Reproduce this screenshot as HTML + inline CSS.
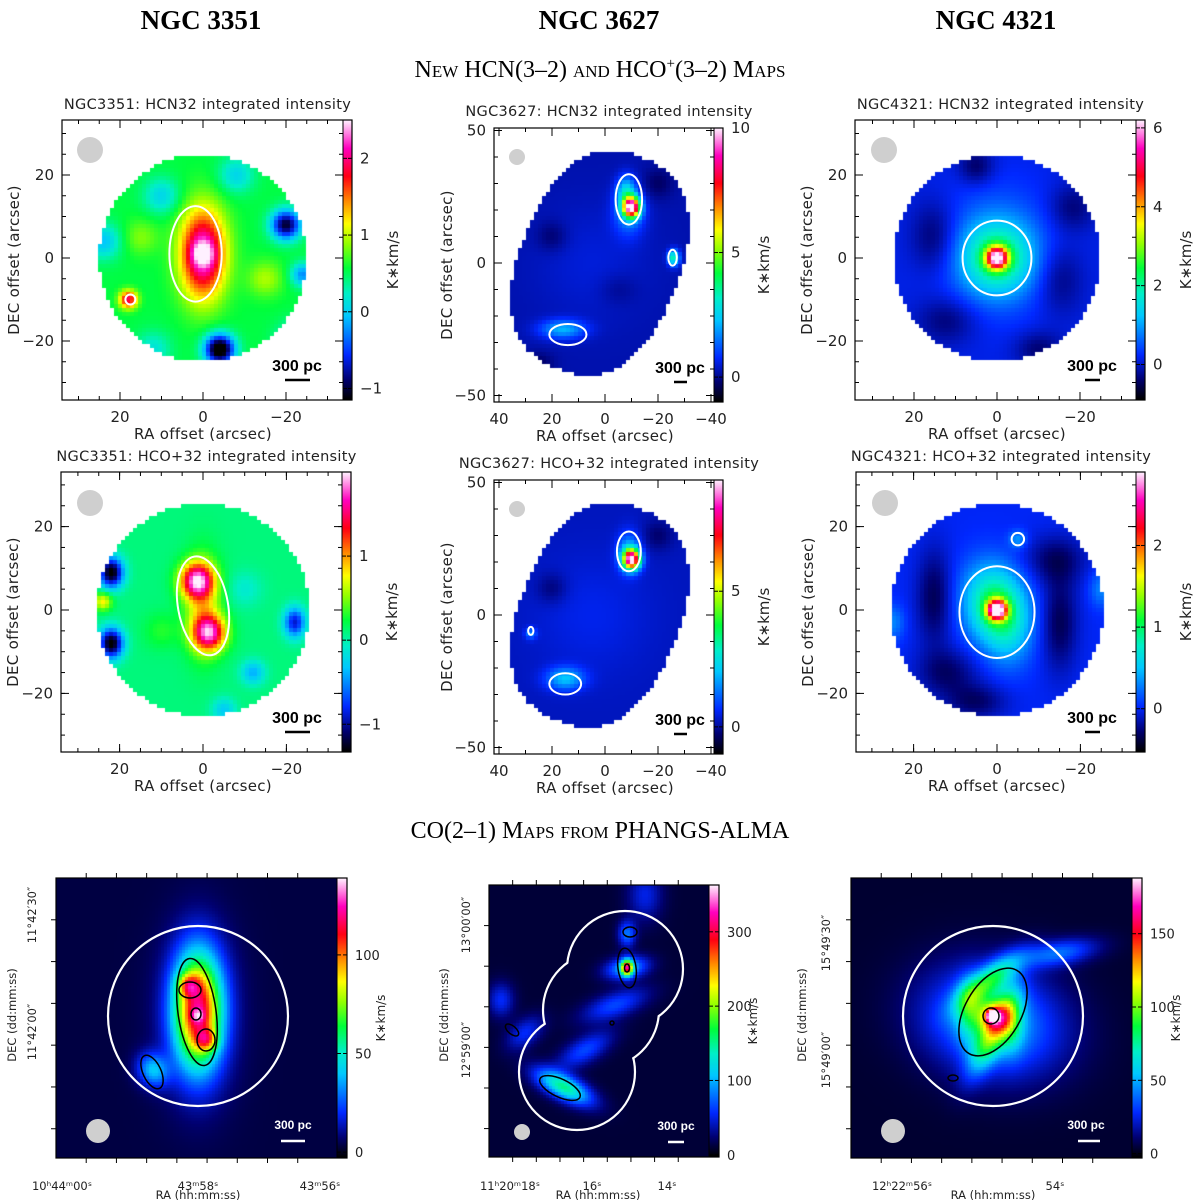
<!DOCTYPE html>
<html><head><meta charset="utf-8">
<style>
body{margin:0;width:1200px;height:1200px;background:#fff;position:relative;overflow:hidden;font-family:"DejaVu Sans","Liberation Sans",sans-serif}
canvas{position:absolute}
#ov{position:absolute;left:0;top:0}
</style></head>
<body>
<div id="maps"></div>
<svg id="ov" width="1200" height="1200" xmlns="http://www.w3.org/2000/svg">
<g font-family="Liberation Serif, serif" font-weight="bold" font-size="27" text-anchor="middle">
<text x="201" y="29">NGC 3351</text>
<text x="599" y="29">NGC 3627</text>
<text x="996" y="29">NGC 4321</text>
</g>
<text x="600" y="77" font-family="Liberation Serif, serif" font-size="24" text-anchor="middle" style="font-variant:small-caps">New HCN(3–2) and HCO<tspan font-size="15" dy="-9">+</tspan><tspan dy="9">(3–2) Maps</tspan></text>
<text x="600" y="838" font-family="Liberation Serif, serif" font-size="24" text-anchor="middle" style="font-variant:small-caps">CO(2–1) Maps from PHANGS-ALMA</text>
</svg>
<script>
// colormap stops (fraction, r,g,b)
const cmapStops=[[0,0,0,0],[0.07,0,0,110],[0.16,0,40,255],[0.3,0,200,255],[0.38,0,240,200],[0.47,0,255,60],[0.56,150,255,0],[0.63,255,255,0],[0.71,255,140,0],[0.8,255,0,20],[0.9,255,0,190],[1,255,240,255]];
function cmap(f){f=Math.max(0,Math.min(1,f));for(let i=1;i<cmapStops.length;i++){const a=cmapStops[i-1],b=cmapStops[i];if(f<=b[0]){const t=(f-a[0])/(b[0]-a[0]);return [a[1]+(b[1]-a[1])*t,a[2]+(b[2]-a[2])*t,a[3]+(b[3]-a[3])*t];}}return [255,240,255];}

// ---- data: emission components [xOffset, yOffset, amplitude, sigmaU, sigmaV, angleDeg]
const hcn3351Comps=[[0,1,1.8,3.8,7.5,0],[0,1,0.5,2,2,0],[-20,8,-1.6,2.5,2.5,0],[-4,-22,-2.0,2.5,2.5,0],[18,-10,1.4,1.5,1.5,0],[-22,-20,-0.6,3,3,0],[10,15,-0.5,3,3,0],[24,4,-0.6,3,3,0],[-8,20,-0.5,3,3,0],[12,-22,-0.4,3,3,0],[-15,-5,0.4,3,3,0],[15,5,0.3,3,3,0],[-24,-4,-0.8,2,2,0]];
const hcn3627Comps=[[-10,21,9.2,2.2,2.6,0],[-8,27,2.2,2.5,4,0],[-9,19,1.5,4,6,0],[16,-25,1.9,6,2.5,0],[-26,2,3.4,1.5,2,0],[5,0,0.3,15,15,0],[20,10,-0.5,4,4,0],[-20,30,-0.5,4,4,0],[25,-38,-0.5,4,3,0],[-5,-10,-0.3,5,4,0]];
const hcn4321Comps=[[0,0,4.6,1.8,1.8,0],[0,0,1.8,6,6,0],[0,2,0.6,10,11,0],[15,5,-0.6,4,6,0],[-15,-5,-0.5,4,6,0],[-18,12,-0.5,4,4,0],[12,-15,-0.5,5,4,0],[-10,-22,-0.5,4,3,0],[5,22,-0.6,3,3,0]];
const hco3351Comps=[[1.5,7,1.6,2.8,3,0],[-1.5,-5.5,1.5,2.8,3,0],[0,1,0.6,3,8,0],[22,9,-1.5,2,2.5,0],[22,-8,-1.5,2,2.5,0],[-22,-3,-1.0,1.8,2.5,0],[24,2,0.7,1.5,1.5,0],[-12,-15,-0.5,2,2,0],[-5,-24,-0.4,2,2,0],[10,-5,0.2,3,3,0],[-10,5,-0.2,3,3,0]];
const hco3627Comps=[[-10,21,8.4,2.2,2.6,0],[-9,24,1.5,3,5,0],[15,-24,1.8,5,3,0],[28,-7,1.2,1.5,1.5,0],[5,0,0.3,15,15,0],[20,10,-0.5,4,4,0],[-20,30,-0.5,4,4,0]];
const hco4321Comps=[[0,0,2.5,1.6,1.6,0],[0,0,0.8,5,6,0],[2,5,0.35,5,6,0],[-3,-6,0.35,4,6,0],[15,3,-0.35,3,8,0],[-15,-3,-0.35,3,8,0],[12,-15,-0.3,5,4,0],[-14,12,-0.3,5,4,0],[5,-22,-0.3,5,3,0],[-5,17,0.35,1.5,1.5,0],[-25,5,0.3,2,3,0],[25,-3,0.3,2,3,0]];
const co3351Comps=[[0,2,105,5.5,13,0],[3.3,10.3,35,2.5,2.5,0],[-3,-8,35,2.5,2.5,0],[0,0,20,1.5,1.5,0],[15,-18,35,4,3.5,60],[0,0,14,9,20,0]];
const co3627Comps=[[-9,15.7,240,1.3,1.8,0],[-9,15.7,90,2.5,5,80],[-9,27,70,2,3,0],[-5,3.3,55,3,8,70],[5,-11.7,55,3,7,60],[12,-24,140,7,2.8,27],[33,5,45,3,4,0],[25,-6,45,5,3,-40],[-15,40,40,4,6,0]];
const co4321Comps=[[0,0,130,1.2,1.2,0],[0,0,70,3.5,3.5,0],[1,12,60,9,3.2,-39],[0,-6,60,10,3.2,-63],[8,2,35,3,7,0],[-6,-2,35,3,7,0],[0,-2,50,12,16,-75],[-22,21,35,9,3,-10]];

// ---- colorbar tick values
const cbTicks1=[-1,0,1,2], cbTicks2=[0,5,10], cbTicks3=[0,2,4,6];
const cbTicks4=[-1,0,1], cbTicks5=[0,5], cbTicks6=[0,1,2];
const cbTicks7=[0,50,100], cbTicks8=[0,100,200,300], cbTicks9=[0,50,100,150];
const xTicksA=[20,0,-20], yTicksA=[20,0,-20];
const xTicksB=[40,20,0,-20,-40], yTicksB=[50,0,-50];

const panels=[
 {n:'hcn-ngc3351',fx:62,fy:120,fw:281,fh:280,cx0:203,cy0:258,sc:4.15,vmin:-1.15,vmax:2.5,bg:0.55,comps:hcn3351Comps,mask:['circle',0,0,25],cs:4,cb:cbTicks1,xt:xTicksA,yt:yTicksA,title:'NGC3351: HCN32 integrated intensity',cont:[[1.8,1,6.3,11.5,0],[17.5,-10,1.2,1.2,0]],beam:[90,150,13],bar:[297,285,310]},
 {n:'hcn-ngc3627',fx:494,fy:128,fw:220,fh:274,cx0:605,cy0:263,sc:2.65,vmin:-1,vmax:10,bg:0.2,comps:hcn3627Comps,mask:['ell',2,0,43,30,22],cs:4,cb:cbTicks2,xt:xTicksB,yt:yTicksB,title:'NGC3627: HCN32 integrated intensity',cont:[[-9,24,5,9.5,0],[14,-27,7,4,0],[-25.5,2,1.6,3,0]],beam:[517,157,8],bar:[680,674,687]},
 {n:'hcn-ngc4321',fx:855,fy:120,fw:281,fh:280,cx0:997,cy0:258,sc:4.15,vmin:-0.9,vmax:6.2,bg:0.1,comps:hcn4321Comps,mask:['circle',0,0,25],cs:4,cb:cbTicks3,xt:xTicksA,yt:yTicksA,title:'NGC4321: HCN32 integrated intensity',cont:[[0,0,8.3,9,0]],beam:[884,150,13],bar:[1092,1085,1100]},
 {n:'hco-ngc3351',fx:61,fy:472,fw:281,fh:280,cx0:203,cy0:610,sc:4.17,vmin:-1.33,vmax:2.0,bg:0.1,comps:hco3351Comps,mask:['circle',0,0,25.5],cs:4,cb:cbTicks4,xt:xTicksA,yt:yTicksA,title:'NGC3351: HCO+32 integrated intensity',cont:[[0,1,6,12,-10]],beam:[90,503,13],bar:[297,285,310]},
 {n:'hco-ngc3627',fx:494,fy:480,fw:220,fh:274,cx0:605,cy0:615,sc:2.65,vmin:-1,vmax:9.1,bg:0.2,comps:hco3627Comps,mask:['ell',2,0,43,30,22],cs:4,cb:cbTicks5,xt:xTicksB,yt:yTicksB,title:'NGC3627: HCO+32 integrated intensity',cont:[[-9,24,4.5,7.5,0],[15,-26,6,4,0],[28,-6,1,1.5,0]],beam:[517,509,8],bar:[680,674,687]},
 {n:'hco-ngc4321',fx:856,fy:472,fw:280,fh:280,cx0:997,cy0:610,sc:4.17,vmin:-0.53,vmax:2.9,bg:0.0,comps:hco4321Comps,mask:['circle',0,0,25.5],cs:4,cb:cbTicks6,xt:xTicksA,yt:yTicksA,title:'NGC4321: HCO+32 integrated intensity',cont:[[0,-0.5,9,11,0],[-5,17,1.5,1.5,0]],beam:[885,503,13],bar:[1092,1085,1100]},
 {n:'co-ngc3351',fx:56,fy:878,fw:281,fh:280,cx0:198,cy0:1016,sc:3,vmin:-3,vmax:139,bg:3,comps:co3351Comps,mask:null,cs:3,cb:cbTicks7,co:true,circ:[[198,1016,90]],blk:[[197,1012,19,54,-8],[196,1014,5,6,0],[190,990,11,8,0],[206,1040,9,11,0],[152,1072,9,18,-25]],beam:[98,1131,12],bar:[293,281,305]},
 {n:'co-ngc3627',fx:489,fy:885,fw:220,fh:272,cx0:600,cy0:1015,sc:3,vmin:-3,vmax:363,bg:10,comps:co3627Comps,mask:null,cs:3,cb:cbTicks8,co:true,circ:[[625,969,58],[601,1010,58],[577,1072,58]],blk:[[627,968,9,20,-8],[627,968,2.5,4,0],[630,932,7,5,0],[560,1088,22,9,25],[512,1030,8,4,40],[612,1023,2,2,0]],beam:[522,1132,8],bar:[676,668,684]},
 {n:'co-ngc4321',fx:851,fy:878,fw:281,fh:280,cx0:993,cy0:1016,sc:3,vmin:-3,vmax:188,bg:3,comps:co4321Comps,mask:null,cs:3,cb:cbTicks9,co:true,circ:[[993,1016,90]],blk:[[993,1012,28,48,30],[991,1016,8,8,0],[953,1078,5,3,0]],beam:[893,1131,12],bar:[1086,1078,1100]}
];

function field(x,y,bg,comps){let v=bg;for(const c of comps){const t=(c[5]||0)*Math.PI/180;const dx=x-c[0],dy=y-c[1];const u=dx*Math.cos(t)+dy*Math.sin(t),w=-dx*Math.sin(t)+dy*Math.cos(t);v+=c[2]*Math.exp(-0.5*(u*u/(c[3]*c[3])+w*w/(c[4]*c[4])));}return v;}
function inMask(m,x,y){if(!m)return true;if(m[0]==='circle'){return (x-m[1])**2+(y-m[2])**2<=m[3]*m[3];}
 const t=m[5]*Math.PI/180;const dx=x-m[1],dy=y-m[2];const u=dx*Math.cos(t)+dy*Math.sin(t),w=-dx*Math.sin(t)+dy*Math.cos(t);return Math.pow(Math.abs(w)/m[3],2.4)+Math.pow(Math.abs(u)/m[4],2.4)<=1;}

const NS='http://www.w3.org/2000/svg';
const ov=document.getElementById('ov');
const mapsDiv=document.getElementById('maps');
function el(tag,attrs,parent,txt){const e=document.createElementNS(NS,tag);for(const k in attrs)e.setAttribute(k,attrs[k]);if(txt!==undefined)e.textContent=txt;(parent||ov).appendChild(e);return e;}

panels.forEach((p,pi)=>{
 const cv=document.createElement('canvas');
 cv.width=p.fw;cv.height=p.fh;cv.style.left=p.fx+'px';cv.style.top=p.fy+'px';
 
 
 mapsDiv.appendChild(cv);
 const ctx=cv.getContext('2d');
 ctx.fillStyle='#fff';ctx.fillRect(0,0,p.fw,p.fh);
 for(let py=0;py<p.fh;py+=p.cs)for(let px=0;px<p.fw;px+=p.cs){
  const X=(p.cx0-(p.fx+px+p.cs/2))/p.sc, Y=(p.cy0-(p.fy+py+p.cs/2))/p.sc;
  if(!inMask(p.mask,X,Y))continue;
  const v=field(X,Y,p.bg,p.comps);const c=cmap((v-p.vmin)/(p.vmax-p.vmin));
  ctx.fillStyle=`rgb(${c[0]|0},${c[1]|0},${c[2]|0})`;ctx.fillRect(px,py,p.cs,p.cs);
 }
 const cbx=p.fx+p.fw, cbw=p.co?10:9;
 const cb=document.createElement('canvas');cb.width=cbw;cb.height=p.fh;cb.style.left=cbx+'px';cb.style.top=p.fy+'px';
 
 
 mapsDiv.appendChild(cb);
 const cc=cb.getContext('2d');
 for(let y=0;y<p.fh;y++){const c=cmap(1-y/(p.fh-1));cc.fillStyle=`rgb(${c[0]|0},${c[1]|0},${c[2]|0})`;cc.fillRect(0,y,cbw,1);}
 const g=el('g',{});
 
 
 el('rect',{x:p.fx,y:p.fy,width:p.fw+cbw,height:p.fh,fill:'none',stroke:'#000','stroke-width':1.2},g);
 el('line',{x1:cbx,y1:p.fy,x2:cbx,y2:p.fy+p.fh,stroke:'#000','stroke-width':1},g);
 const vy=v=>p.fy+p.fh*(1-(v-p.vmin)/(p.vmax-p.vmin));
 p.cb.forEach(v=>{const y=vy(v);
  el('line',{x1:cbx,y1:y,x2:cbx+4,y2:y,stroke:'#000'},g);el('line',{x1:cbx+cbw-4,y1:y,x2:cbx+cbw,y2:y,stroke:'#000'},g);
  const t=el('text',{x:cbx+cbw+8,y:y+5,'font-size':p.co?13:15,fill:'#222'},g,(v<0?'−'+(-v):String(v)));
  
  
 });
 const ul=el('text',{x:0,y:0,'font-size':p.co?12:15,'text-anchor':'middle',transform:`translate(${cbx+cbw+(p.co?38:46)},${p.fy+p.fh/2}) rotate(-90)`,fill:'#222'},g,'K∗km/s');
 
 
 const b=el('circle',{cx:p.beam[0],cy:p.beam[1],r:p.beam[2],fill:'#cfcfcf'},g);
 
 
 const sbCol=p.co?'#fff':'#000';
 const sbt=el('text',{x:p.bar[0],y:p.co?p.beam[1]-2:p.fy+p.fh-29,'font-size':p.co?12:16,'font-weight':'bold','text-anchor':'middle',fill:sbCol,'font-family':'Liberation Sans, sans-serif'},g,'300 pc');
 
 
 const sby=p.co?p.beam[1]+10:p.fy+p.fh-20;
 el('line',{x1:p.bar[1],y1:sby,x2:p.bar[2],y2:sby,stroke:sbCol,'stroke-width':2.5},g);
 if(!p.co){
  const X=x=>p.cx0-x*p.sc, Y=y=>p.cy0-y*p.sc;
  p.xt.forEach(v=>{const x=X(v);el('line',{x1:x,y1:p.fy,x2:x,y2:p.fy+8,stroke:'#000'},g);el('line',{x1:x,y1:p.fy+p.fh-8,x2:x,y2:p.fy+p.fh,stroke:'#000'},g);
   const t=el('text',{x:x,y:p.fy+p.fh+22,'font-size':15,'text-anchor':'middle',fill:'#222'},g,(v<0?'−'+(-v):String(v)));
   
   });
  p.yt.forEach(v=>{const y=Y(v);el('line',{x1:p.fx,y1:y,x2:p.fx+8,y2:y,stroke:'#000'},g);el('line',{x1:cbx-8,y1:y,x2:cbx,y2:y,stroke:'#000'},g);
   const t=el('text',{x:p.fx-8,y:y+5,'font-size':15,'text-anchor':'end',fill:'#222'},g,(v<0?'−'+(-v):String(v)));
   
   });
  const st=p.xt.length>3?10:5;
  for(let v=-60;v<=60;v+=st){const x=X(v);if(x>p.fx+2&&x<cbx-2){el('line',{x1:x,y1:p.fy,x2:x,y2:p.fy+4,stroke:'#000'},g);el('line',{x1:x,y1:p.fy+p.fh-4,x2:x,y2:p.fy+p.fh,stroke:'#000'},g);}
   const y=Y(v);if(y>p.fy+2&&y<p.fy+p.fh-2){el('line',{x1:p.fx,y1:y,x2:p.fx+4,y2:y,stroke:'#000'},g);el('line',{x1:cbx-4,y1:y,x2:cbx,y2:y,stroke:'#000'},g);}}
  const tt=el('text',{x:p.fx+p.fw/2+5,y:p.fy-(p.fy%352===128?12:11),'font-size':14.5,'text-anchor':'middle',fill:'#222','letter-spacing':'0.3'},g,p.title);
  
  
  const xl=el('text',{x:p.cx0,y:p.fy+p.fh+39,'font-size':15,'text-anchor':'middle',fill:'#222','letter-spacing':'0.3'},g,'RA offset (arcsec)');
  
  
  const yl=el('text',{x:0,y:0,'font-size':15,'text-anchor':'middle',fill:'#222','letter-spacing':'0.3',transform:`translate(${p.fx-(p.xt.length>3?42:43)},${p.fy+p.fh/2}) rotate(-90)`},g,'DEC offset (arcsec)');
  
  
  p.cont.forEach(c=>{const e=el('ellipse',{cx:X(c[0]),cy:Y(c[1]),rx:c[2]*p.sc,ry:c[3]*p.sc,transform:`rotate(${c[4]} ${X(c[0])} ${Y(c[1])})`,fill:'none',stroke:'#fff','stroke-width':2},g);
   
   });
 } else {
  for(let i=1;i<9;i++){const x=p.fx+i*p.fw/9.3;el('line',{x1:x,y1:p.fy+p.fh,x2:x,y2:p.fy+p.fh+5,stroke:'#000'},g);el('line',{x1:x,y1:p.fy,x2:x,y2:p.fy-5,stroke:'#000'},g);}
  for(let i=1;i<7;i++){const y=p.fy+i*p.fh/6.7;el('line',{x1:p.fx-5,y1:y,x2:p.fx,y2:y,stroke:'#000'},g);}
  p.circ.forEach((c,i)=>{
   const mid='m'+pi+'_'+i;const m=el('mask',{id:mid},g);el('rect',{x:0,y:0,width:1200,height:1200,fill:'#fff'},m);
   p.circ.forEach((d,j)=>{if(j!==i)el('circle',{cx:d[0],cy:d[1],r:d[2]-1,fill:'#000'},m);});
   const e=el('circle',{cx:c[0],cy:c[1],r:c[2],fill:'none',stroke:'#fff','stroke-width':2.2,mask:`url(#${mid})`},g);
   
   
  });
  p.blk.forEach(c=>{const e=el('ellipse',{cx:c[0],cy:c[1],rx:c[2],ry:c[3],transform:`rotate(${c[4]} ${c[0]} ${c[1]})`,fill:'none',stroke:'#000','stroke-width':1.5},g);
   
   });
 }
});

const coLabels=[
 {x:[[62,'10ʰ44ᵐ00ˢ'],[198,'43ᵐ58ˢ'],[320,'43ᵐ56ˢ']],y:[[36,915,'11°42′30″'],[36,1032,'11°42′00″']],rx:198,dx:16},
 {x:[[510,'11ʰ20ᵐ18ˢ'],[592,'16ˢ'],[667,'14ˢ']],y:[[470,925,'13°00′00″'],[470,1050,'12°59′00″']],rx:598,dx:448},
 {x:[[902,'12ʰ22ᵐ56ˢ'],[1055,'54ˢ']],y:[[830,943,'15°49′30″'],[830,1060,'15°49′00″']],rx:993,dx:806}
];
coLabels.forEach((L,i)=>{
 const g=el('g',{'font-size':11.5,fill:'#222'});
 
 
 L.x.forEach(a=>{el('text',{x:a[0],y:1190,'text-anchor':'middle'},g,a[1]);});
 L.y.forEach(a=>{el('text',{x:0,y:0,'text-anchor':'middle',transform:`translate(${a[0]},${a[1]}) rotate(-90)`},g,a[2]);});
 el('text',{x:L.rx,y:1199,'text-anchor':'middle'},g,'RA (hh:mm:ss)');
 el('text',{x:0,y:0,'text-anchor':'middle',transform:`translate(${L.dx},1015) rotate(-90)`},g,'DEC (dd:mm:ss)');
});
</script>
</body></html>
